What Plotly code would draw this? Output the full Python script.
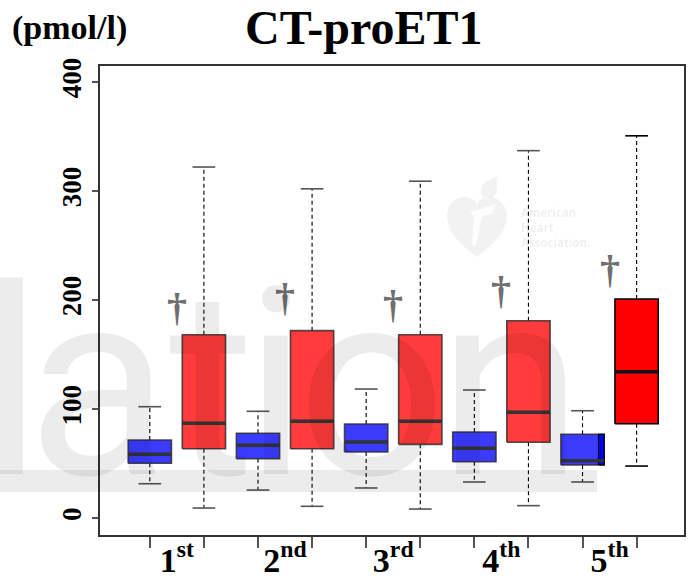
import plotly.graph_objects as go

# ---- data -------------------------------------------------------------
groups = ["1st", "2nd", "3rd", "4th", "5th"]

blue_lower = [31.7, 25.9, 27.8, 33.3, 33.3]
blue_q1 = [50.4, 54.6, 60.8, 51.9, 48.9]
blue_median = [58.7, 66.9, 69.9, 64.2, 52.8]
blue_q3 = [71.8, 77.9, 86.4, 79.1, 77.0]
blue_upper = [102.3, 98.1, 118.5, 117.6, 98.6]

red_lower = [9.4, 11.0, 8.5, 11.6, 47.9]
red_q1 = [63.8, 63.8, 67.8, 69.7, 86.7]
red_median = [87.1, 88.9, 88.9, 97.2, 134.4]
red_q3 = [168.3, 172.0, 168.3, 181.1, 201.0]
red_upper = [322.0, 302.0, 309.0, 337.0, 350.6]

dagger_y = [193, 202, 196, 209, 228]
y_ticks = [0, 100, 200, 300, 400]

# ---- geometry / style --------------------------------------------------
W, H = 691, 584
ML, MR, MT, MB = 100, 7, 66, 49
PW, PH = W - ML - MR, H - MT - MB
SERIF = "Liberation Serif, Times New Roman, serif"
HALF = 0.4      # half box width (category units)
CAP = 0.21      # half cap width


def px_x(px):
    return (px - ML) / PW


def px_y(py):
    return (H - MB - py) / PH


def box_traces(pos, lo, q1, med, q3, hi, fill, edge, capc):
    tr = []
    tr.append(go.Scatter(x=[pos, pos, None, pos, pos], y=[q3, hi, None, q1, lo],
                         mode="lines", line=dict(color="black", width=1.1, dash="4px,3px")))
    tr.append(go.Scatter(x=[pos - CAP, pos + CAP, None, pos - CAP, pos + CAP],
                         y=[hi, hi, None, lo, lo], mode="lines",
                         line=dict(color=capc, width=1.6)))
    tr.append(go.Scatter(x=[pos - HALF, pos + HALF, pos + HALF, pos - HALF, pos - HALF],
                         y=[q1, q1, q3, q3, q1], mode="lines", fill="toself",
                         fillcolor=fill, line=dict(color=edge, width=1.6)))
    return tr


def median_trace(pos, med, medc):
    return go.Scatter(x=[pos - HALF, pos + HALF], y=[med, med], mode="lines",
                      line=dict(color=medc, width=3.5))


fig = go.Figure()
BLUE_T = "rgba(0,0,255,0.77)"
RED_T = "rgba(255,0,0,0.77)"
EDGE_T = "rgba(40,40,40,0.8)"

for i in range(len(groups)):
    pb, pr = 2 * i + 1, 2 * i + 2
    last = i == len(groups) - 1
    for t in box_traces(pb, blue_lower[i], blue_q1[i], blue_median[i], blue_q3[i],
                        blue_upper[i], BLUE_T, EDGE_T, "#555555"):
        fig.add_trace(t)
    if last:
        # solid strip on the right edge of the last blue box
        x0, x1 = pb + HALF - 0.105, pb + HALF
        fig.add_trace(go.Scatter(x=[x0, x1, x1, x0, x0],
                                 y=[blue_q1[i], blue_q1[i], blue_q3[i], blue_q3[i], blue_q1[i]],
                                 mode="lines", fill="toself", fillcolor="#0000ff",
                                 line=dict(color="black", width=1.2)))
    fig.add_trace(median_trace(pb, blue_median[i], "#333333"))

    if last:
        fill, edge, medc, capc = "#ff0000", "black", "#111111", "black"
    else:
        fill, edge, medc, capc = RED_T, EDGE_T, "#333333", "#555555"
    for t in box_traces(pr, red_lower[i], red_q1[i], red_median[i], red_q3[i],
                        red_upper[i], fill, edge, capc):
        fig.add_trace(t)
    fig.add_trace(median_trace(pr, red_median[i], medc))

fig.update_traces(showlegend=False, hoverinfo="skip")

# daggers between each pair
for i, yv in enumerate(dagger_y):
    fig.add_annotation(x=2 * i + 1.5, y=yv, xref="x", yref="y", text="†",
                       showarrow=False, yanchor="middle", xanchor="center",
                       font=dict(family=SERIF, size=40, color="#6f6f6f", weight="bold"))

# faint background watermark lettering
WM = "rgba(0,0,0,0.075)"
letters = [("l", 11), ("a", 98), ("t", 212), ("i", 276), ("o", 371), ("n", 510)]
for ch, cx in letters:
    fig.add_annotation(x=px_x(cx), y=px_y(540), xref="paper", yref="paper", text=ch,
                       showarrow=False, xanchor="center", yanchor="bottom",
                       font=dict(family="Roboto", size=262, color=WM))
fig.add_shape(type="rect", xref="paper", yref="paper",
              x0=px_x(0), x1=px_x(597), y0=px_y(492), y1=px_y(470),
              fillcolor=WM, line=dict(width=0), layer="above")


def pix_path(cmds):
    out = []
    for c in cmds:
        if isinstance(c, str):
            out.append(c)
        else:
            out.append(f"{px_x(c[0]):.5f},{px_y(c[1]):.5f}")
    return " ".join(out)


LOGO = "rgba(0,0,0,0.05)"
heart = pix_path(["M", (477, 257), "C", (456, 241), (447, 229), (447, 216),
                  "C", (447, 204), (456, 197), (465, 197),
                  "C", (471, 197), (475, 200), (477, 204),
                  "C", (479, 200), (483, 197), (489, 197),
                  "C", (498, 197), (507, 204), (507, 216),
                  "C", (507, 229), (498, 241), (477, 257), "Z"])
flame = pix_path(["M", (482, 196), "C", (478, 186), (486, 180), (498, 176),
                  "C", (494, 184), (502, 190), (492, 198), "Z"])
torch = pix_path(["M", (470, 212), "L", (496, 204), "L", (492, 214), "L", (482, 216),
                  "L", (476, 246), "L", (472, 246), "L", (474, 216), "Z"])
fig.add_shape(type="path", path=heart, xref="paper", yref="paper",
              fillcolor=LOGO, line=dict(width=0), layer="above")
fig.add_shape(type="path", path=flame, xref="paper", yref="paper",
              fillcolor=LOGO, line=dict(width=0), layer="above")
fig.add_shape(type="path", path=torch, xref="paper", yref="paper",
              fillcolor="rgba(255,255,255,0.85)", line=dict(width=0), layer="above")
fig.add_annotation(x=px_x(519), y=px_y(227), xref="paper", yref="paper",
                   text="American<br>Heart<br>Association.", showarrow=False,
                   xanchor="left", yanchor="middle", align="left",
                   font=dict(family="Open Sans", size=11.5, color="rgba(0,0,0,0.08)", weight="bold"))

# titles
fig.add_annotation(x=px_x(363), y=px_y(28), xref="paper", yref="paper", text="CT-proET1",
                   showarrow=False, xanchor="center", yanchor="middle",
                   font=dict(family=SERIF, size=48, color="black", weight="bold"))
fig.add_annotation(x=px_x(69), y=px_y(28), xref="paper", yref="paper", text="(pmol/l)",
                   showarrow=False, xanchor="center", yanchor="middle",
                   font=dict(family=SERIF, size=34, color="black", weight="bold"))

x_range = [0.079, 10.876]
fig.update_layout(
    width=W, height=H,
    margin=dict(l=ML, r=MR, t=MT, b=MB, pad=0, autoexpand=False),
    paper_bgcolor="white", plot_bgcolor="white",
    showlegend=False,
    xaxis=dict(range=x_range, automargin=False,
               tickvals=[2 * i + 1.5 for i in range(len(groups))],
               ticktext=[g[0] + "<sup>" + g[1:] + "</sup>" for g in groups],
               ticks="", ticklabelstandoff=-6,
               tickfont=dict(family=SERIF, size=34, color="black", weight="bold"),
               minor=dict(tick0=1, dtick=1, ticks="outside", ticklen=11, tickwidth=1.5,
                          tickcolor="#555555", showgrid=False),
               showline=True, mirror=True, linecolor="#333333", linewidth=1.5,
               showgrid=False, zeroline=False),
    yaxis=dict(range=[-15.3, 414.6], tickvals=y_ticks, tickangle=-90, automargin=False,
               ticks="outside", ticklen=6, tickwidth=1.5, tickcolor="#555555",
               showline=True, mirror=True, linecolor="#333333", linewidth=1.5,
               showgrid=False, zeroline=False, ticklabelstandoff=0,
               tickfont=dict(family=SERIF, size=27, color="black", weight="bold")),
)

fig.write_html("out.html")
